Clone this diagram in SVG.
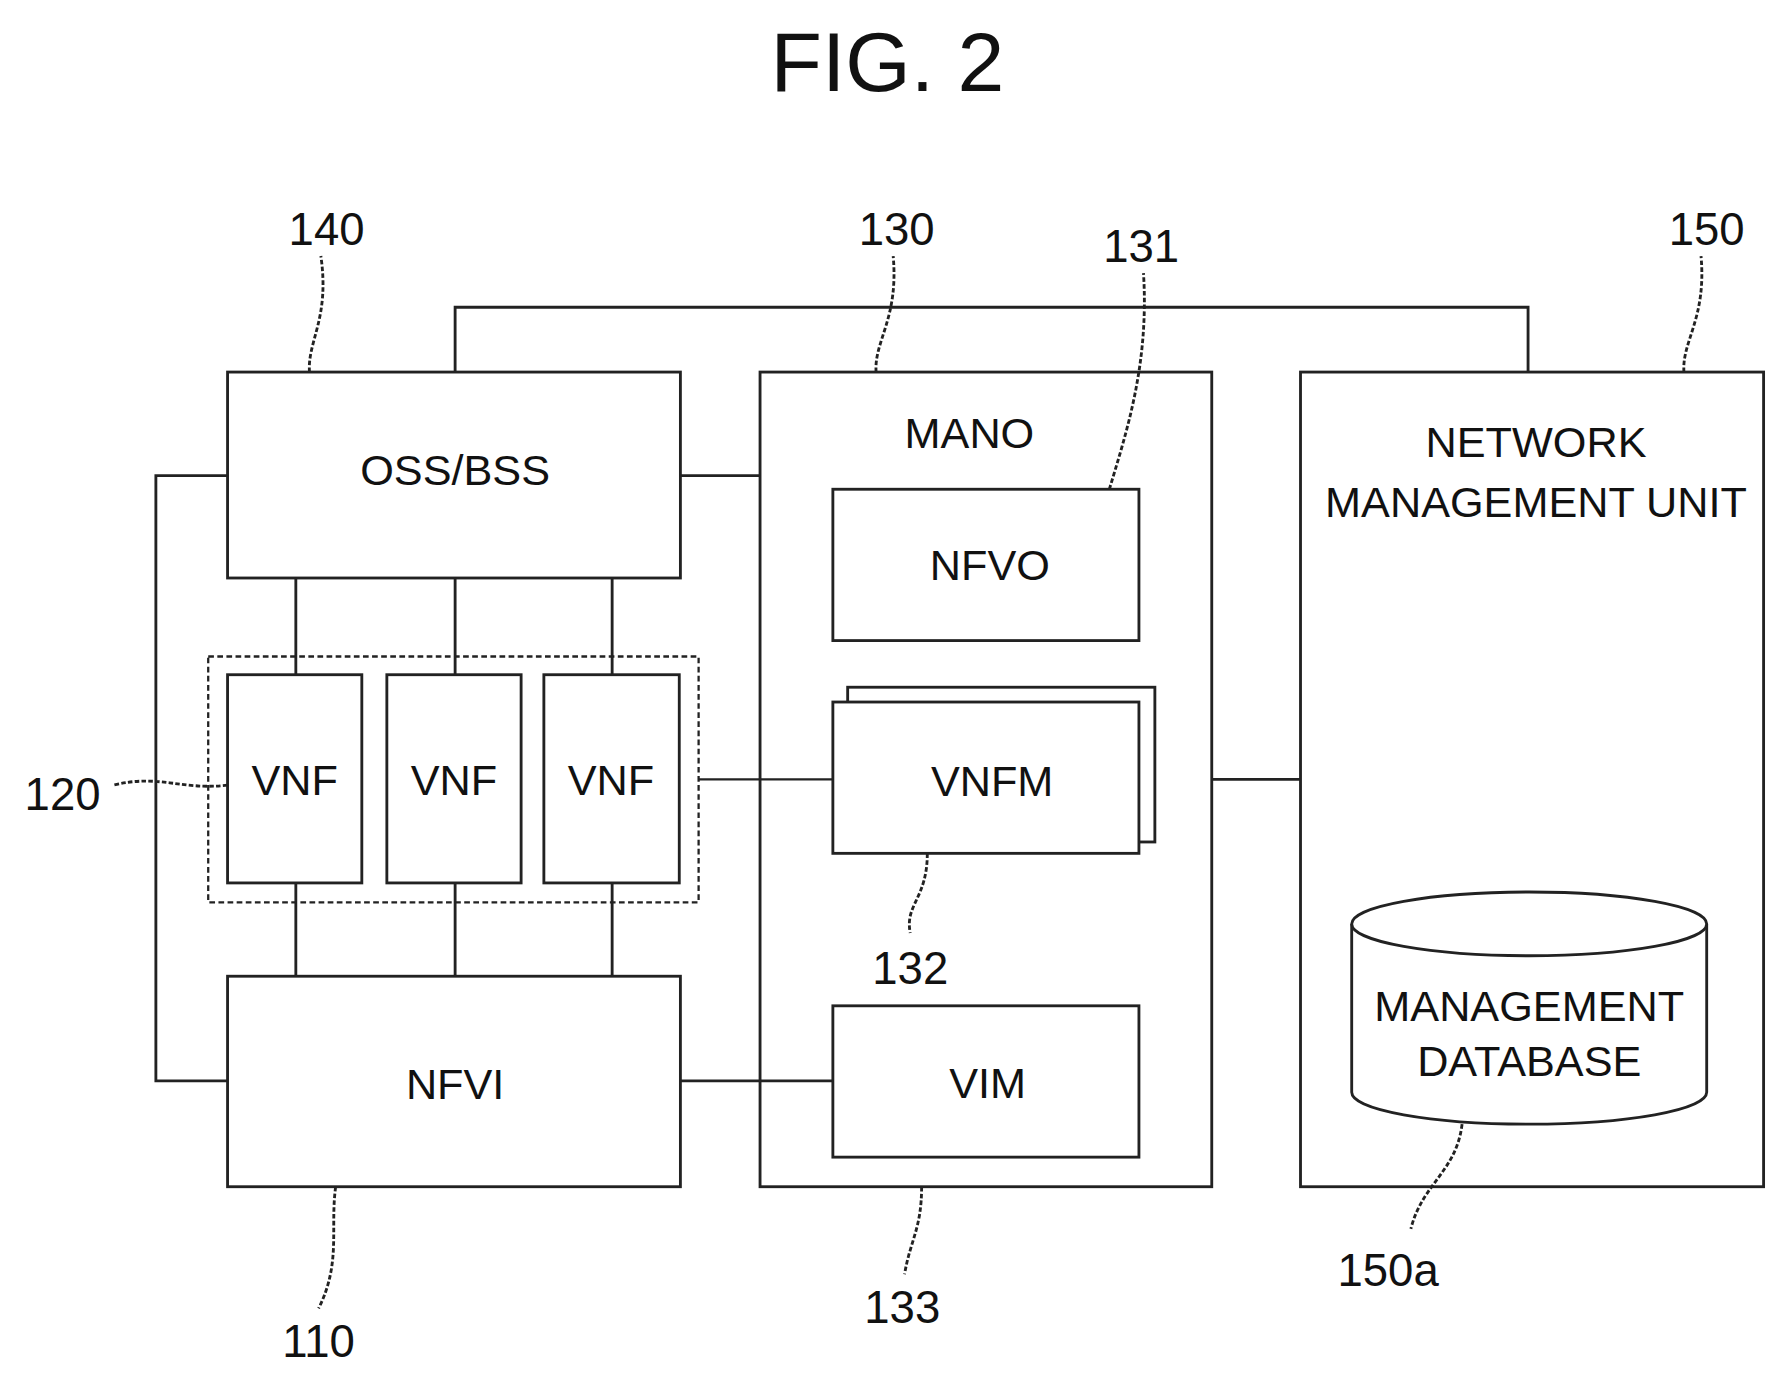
<svg xmlns="http://www.w3.org/2000/svg" width="1775" height="1373" viewBox="0 0 1775 1373">
<style>
.b{fill:#fff;stroke:#222;stroke-width:2.5}
.l{fill:none;stroke:#222;stroke-width:2.5}
.d{fill:none;stroke:#222;stroke-width:2;stroke-dasharray:5 3}
text{font-family:"Liberation Sans",Arial,sans-serif;fill:#111;text-anchor:middle}
.t{font-size:38px}
.n{font-size:40px}
</style>
<rect width="1775" height="1373" fill="#fff"/>
<g transform="scale(1.1378)">
<text x="780" y="80" font-size="74">FIG. 2</text>
<g id="connectors">
<polyline class="l" points="400,327 400,270 1343,270 1343,327"/>
<polyline class="l" points="200,418 137,418 137,950 200,950"/>
<line class="l" x1="598" y1="418" x2="668" y2="418"/>
<line class="l" x1="260" y1="508" x2="260" y2="593"/>
<line class="l" x1="400" y1="508" x2="400" y2="593"/>
<line class="l" x1="538" y1="508" x2="538" y2="593"/>
<line class="l" x1="260" y1="776" x2="260" y2="858"/>
<line class="l" x1="400" y1="776" x2="400" y2="858"/>
<line class="l" x1="538" y1="776" x2="538" y2="858"/>
<line x1="614" y1="685" x2="732" y2="685" stroke="#222" stroke-width="2"/>
<line class="l" x1="598" y1="950" x2="732" y2="950"/>
<line class="l" x1="1065" y1="685" x2="1143" y2="685"/>
</g>
<g id="n140"><rect class="b" x="200" y="327" width="398" height="181"/><text class="t" x="400" y="426">OSS/BSS</text></g>
<g id="n110"><rect class="b" x="200" y="858" width="398" height="185"/><text class="t" x="400" y="966">NFVI</text></g>
<g id="n120"><rect class="d" x="183" y="577" width="431" height="216"/>
<rect class="b" x="200" y="593" width="118" height="183"/><text class="t" x="259" y="699">VNF</text>
<rect class="b" x="340" y="593" width="118" height="183"/><text class="t" x="399" y="699">VNF</text>
<rect class="b" x="478" y="593" width="119" height="183"/><text class="t" x="537" y="699">VNF</text></g>
<g id="n130"><rect class="l" x="668" y="327" width="397" height="716"/><text class="t" x="852" y="394">MANO</text></g>
<g id="n131"><rect class="b" x="732" y="430" width="269" height="133"/><text class="t" x="870" y="510">NFVO</text></g>
<g id="n132"><rect class="b" x="745" y="604" width="270" height="136"/><rect class="b" x="732" y="617" width="269" height="133"/><text class="t" x="872" y="700">VNFM</text></g>
<g id="n133"><rect class="b" x="732" y="884" width="269" height="133"/><text class="t" x="868" y="965">VIM</text></g>
<g id="n150"><rect class="b" x="1143" y="327" width="407" height="716"/><text class="t" x="1350" y="402">NETWORK</text><text class="t" x="1350" y="454">MANAGEMENT UNIT</text></g>
<g id="n150a"><path class="b" d="M1188,812 L1188,960 A156,28 0 0 0 1500,960 L1500,812"/><ellipse class="b" cx="1344" cy="812" rx="156" ry="28"/>
<text class="t" x="1344" y="897">MANAGEMENT</text><text class="t" x="1344" y="946">DATABASE</text></g>
<g id="labels" class="l" stroke-dasharray="4 2" stroke-width="2">
<path d="M272,327 C270,300 290,280 282,225"/>
<path d="M770,327 C768,300 790,280 785,225"/>
<path d="M975,430 C990,380 1010,320 1005,240"/>
<path d="M1480,327 C1478,300 1500,280 1495,225"/>
<path d="M200,690 C160,695 140,680 100,690"/>
<path d="M815,750 C815,790 795,795 800,820"/>
<path d="M295,1043 C290,1080 300,1110 280,1150"/>
<path d="M810,1043 C810,1080 800,1090 795,1120"/>
<path d="M1285,988 C1280,1030 1250,1040 1240,1080"/>
</g>
<text class="n" x="287" y="215">140</text>
<text class="n" x="788" y="215">130</text>
<text class="n" x="1003" y="230">131</text>
<text class="n" x="1500" y="215">150</text>
<text class="n" x="55" y="712">120</text>
<text class="n" x="800" y="865">132</text>
<text class="n" x="280" y="1193">110</text>
<text class="n" x="793" y="1163">133</text>
<text class="n" x="1220" y="1130">150a</text>
</g>
</svg>
